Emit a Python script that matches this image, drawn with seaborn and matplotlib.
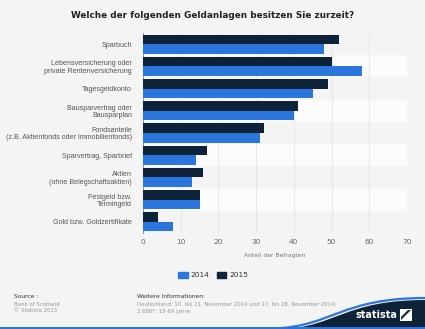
import matplotlib
matplotlib.use("Agg")
import matplotlib.pyplot as plt
import matplotlib.patches as mpatches
from matplotlib import font_manager
from matplotlib.path import Path
import pandas as pd
import seaborn as sns

categories = [
    "Sparbuch",
    "Lebensversicherung oder\nprivate Rentenversicherung",
    "Tagesgeldkonto",
    "Bausparvertrag oder\nBausparplan",
    "Fondsanteile\n(z.B. Aktienfonds oder Immobilienfonds)",
    "Sparvertrag, Sparbrief",
    "Aktien\n(ohne Belegschaftsaktien)",
    "Festgeld bzw.\nTermingeld",
    "Gold bzw. Goldzertifikate",
]
values_2014 = [48, 58, 45, 40, 31, 14, 13, 15, 8]
values_2015 = [52, 50, 49, 41, 32, 17, 16, 15, 4]
years = ["2014", "2015"]
x_ticks = [0, 10, 20, 30, 40, 50, 60, 70]

colors = {"2014": "#2a76dc", "2015": "#0e2339"}
bg = "#f4f4f4"

df = pd.DataFrame({
    "Geldanlage": categories * 2,
    "Jahr": ["2014"] * len(categories) + ["2015"] * len(categories),
    "Anteil": values_2014 + values_2015,
})

sns.set_theme(style="white")
plt.rcParams["font.family"] = ["DejaVu Sans"]

installed = {f.name for f in font_manager.fontManager.ttflist}
narrow = "Liberation Sans Narrow" if "Liberation Sans Narrow" in installed else "Liberation Sans"

fig = plt.figure(figsize=(4.25, 3.29), dpi=100, facecolor=bg)
ax = fig.add_axes([143 / 425, 1 - 233 / 329, (407 - 143) / 425, (233 - 33) / 329])
ax.set_facecolor(bg)

# alternating row bands
for i in range(len(categories)):
    if i % 2 == 1:
        ax.axhspan(i - 0.5, i + 0.5, color="#fbfbfb", zorder=0, lw=0)

sns.barplot(
    data=df, y="Geldanlage", x="Anteil", hue="Jahr",
    hue_order=["2015", "2014"], order=categories,
    palette=colors, width=0.86, ax=ax, zorder=3, saturation=1,
    linewidth=0,
)

ax.set_xlim(0, 70)
ax.set_ylim(len(categories) - 0.5, -0.5)
ax.set_xticks(x_ticks)
ax.set_xticklabels([str(t) for t in x_ticks], fontsize=5.3, color="#666666")
ax.tick_params(axis="x", length=0, pad=4)
ax.tick_params(axis="y", length=0, pad=8)
for lbl in ax.get_yticklabels():
    lbl.set_fontsize(5.1)
    lbl.set_family(narrow)
    lbl.set_color("#555555")
    lbl.set_horizontalalignment("right")
    lbl.set_multialignment("right")
    lbl.set_linespacing(1.1)
ax.xaxis.grid(True, color="#e0e0e0", lw=0.5, zorder=1)
ax.set_axisbelow(True)
for s in ["top", "right", "bottom"]:
    ax.spines[s].set_visible(False)
ax.spines["left"].set_color("#999999")
ax.spines["left"].set_linewidth(0.8)
ax.set_ylabel("")
ax.set_xlabel("Anteil der Befragten", fontsize=4.3, color="#777777", labelpad=6)

leg = ax.get_legend()
if leg is not None:
    leg.remove()
handles = [mpatches.Patch(color=colors[y]) for y in years]
fig.legend(handles, years, loc="center", bbox_to_anchor=(213 / 425, 1 - 275 / 329),
           ncol=2, frameon=False, fontsize=5.3, handlelength=1.3, handleheight=1.0,
           handletextpad=0.4, columnspacing=1.0, labelcolor="#333333")

fig.text(0.5, 1 - 16 / 329, "Welche der folgenden Geldanlagen besitzen Sie zurzeit?",
         ha="center", va="center", fontsize=6.4, fontweight="bold", color="#222222")

# footer
fig.text(14 / 425, 1 - 296 / 329, "Source :", fontsize=4.2, color="#333333", va="center")
fig.text(14 / 425, 1 - 304 / 329, "Bank of Scotland", fontsize=3.9, color="#999999", va="center")
fig.text(14 / 425, 1 - 311 / 329, "© Statista 2015", fontsize=3.9, color="#999999", va="center")
fig.text(137 / 425, 1 - 296 / 329, "Weitere Informationen:", fontsize=4.2, color="#333333", va="center")
fig.text(137 / 425, 1 - 304 / 329,
         "Deutschland; 10. bis 21. November 2014 und 17. bis 28. November 2014;",
         fontsize=3.9, color="#999999", va="center")
fig.text(137 / 425, 1 - 311 / 329, "2.686*; 18-69 Jahre", fontsize=3.9, color="#999999", va="center")

# statista swoosh in the bottom right corner
W, H = 425, 329
def fx(px):
    return px / W
def fy(py):
    return 1 - py / H

verts = [
    (fx(282), fy(329)), (fx(335), fy(327)), (fx(345), fy(300)), (fx(425), fy(300)),
    (fx(425), fy(329)), (fx(282), fy(329)),
]
codes = [Path.MOVETO, Path.CURVE4, Path.CURVE4, Path.CURVE4, Path.LINETO, Path.CLOSEPOLY]
fig.patches.append(mpatches.PathPatch(Path(verts, codes), transform=fig.transFigure,
                                      facecolor="#0e2339", edgecolor="none", zorder=1))
edge = [(fx(275), fy(328.5)), (fx(332), fy(326)), (fx(342), fy(298)), (fx(425), fy(298))]
fig.patches.append(mpatches.PathPatch(Path(edge, [Path.MOVETO, Path.CURVE4, Path.CURVE4, Path.CURVE4]),
                                      transform=fig.transFigure, facecolor="none",
                                      edgecolor="#2a76dc", lw=1.6, zorder=2))
fig.patches.append(mpatches.Rectangle((0, 0), 1, 1.8 / H, transform=fig.transFigure,
                                      facecolor="#2a76dc", edgecolor="none", zorder=1))
fig.text(fx(376), fy(315.5), "statista", fontsize=7.0, fontweight="bold", color="white",
         ha="center", va="center", zorder=3)
# logo mark: white square split by a dark diagonal
x0, y0, s = 400, 321, 12
fig.patches.append(mpatches.Polygon(
    [(fx(x0), fy(y0)), (fx(x0 + s), fy(y0)), (fx(x0 + s), fy(y0 - s)), (fx(x0), fy(y0 - s))],
    closed=True, transform=fig.transFigure, facecolor="white", edgecolor="none", zorder=3))
fig.patches.append(mpatches.Polygon(
    [(fx(x0 + 1), fy(y0 - 4)), (fx(x0 + s - 4), fy(y0 - s + 1)), (fx(x0 + s - 1), fy(y0 - s + 1)),
     (fx(x0 + 1), fy(y0 - 1))],
    closed=True, transform=fig.transFigure, facecolor="#0e2339", edgecolor="none", zorder=4))

fig.savefig("out.png", dpi=100, facecolor=bg)
